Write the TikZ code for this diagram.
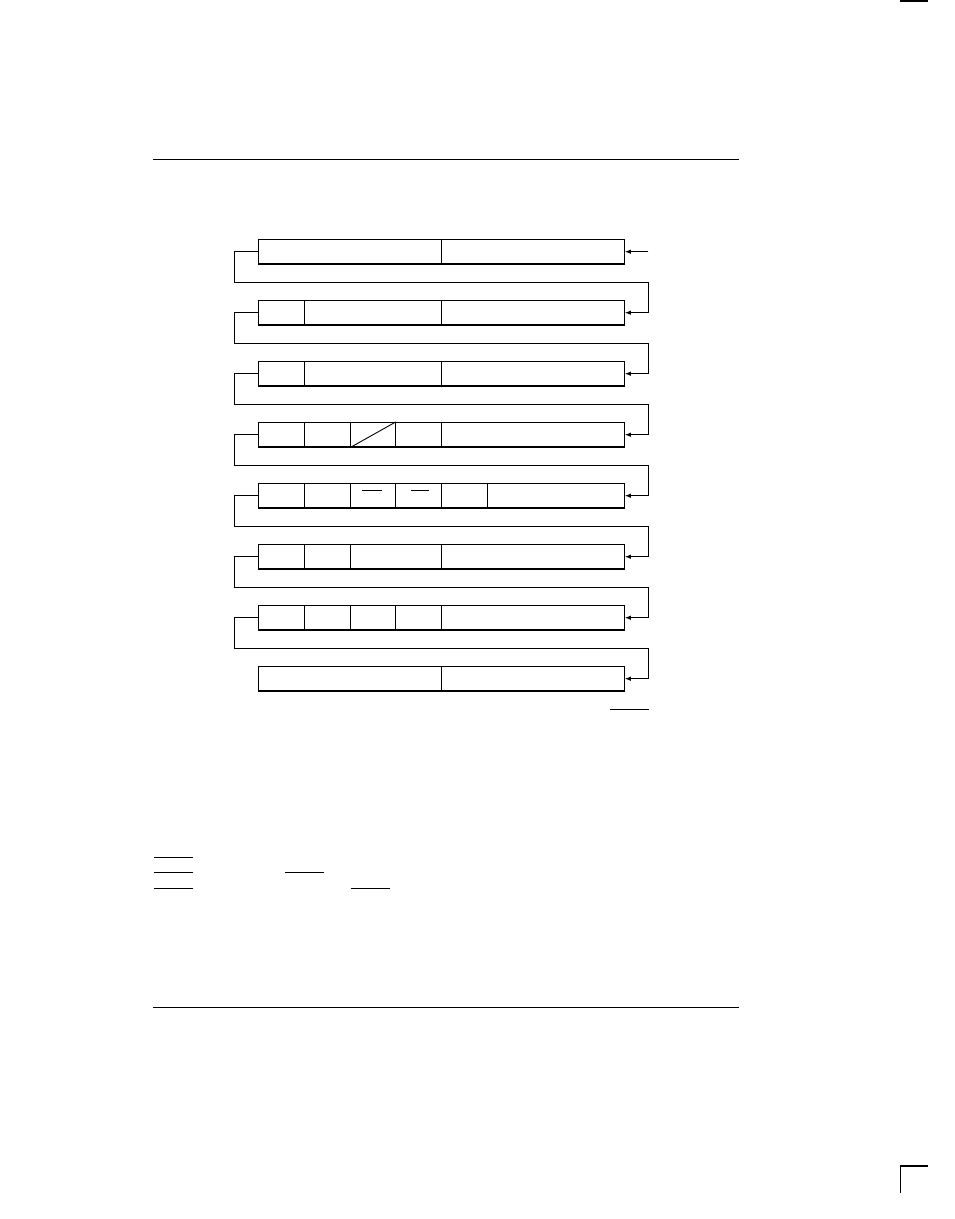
\documentclass[tikz,border=0pt]{standalone}
\usetikzlibrary{arrows.meta}
\begin{document}
\begin{tikzpicture}[x=1pt,y=-1pt,line width=1pt,
  rowbox/.style={draw,rectangle,minimum width=366pt,minimum height=24.5pt,inner sep=0pt,line width=1.1pt},
  arr/.style={-{Latex[length=6pt,width=4.5pt]},line width=1pt},
  rule/.style={line width=1pt}]
\useasboundingbox (0,0) rectangle (954,1219);
% column coordinates
\coordinate (k1) at (304.3,0);
\coordinate (k2) at (350.3,0);
\coordinate (k3) at (395.8,0);
\coordinate (k4) at (441.3,0);
\coordinate (k5) at (487.3,0);
% rows
\foreach \i in {1,...,8}{
  \node[rowbox] (r\i) at (441.3,{251.7+61*(\i-1)}) {};
}
% loop coordinates
\foreach \i in {1,...,7}{
  \coordinate (L\i) at (234.3,{282.2+61*(\i-1)});
  \coordinate (R\i) at (648.3,{282.2+61*(\i-1)});
}
% dividers
\foreach \r/\k in {1/k4, 2/k1, 2/k4, 3/k1, 3/k4, 4/k1, 4/k2, 4/k3, 4/k4,
                   5/k1, 5/k2, 5/k3, 5/k4, 5/k5, 6/k1, 6/k2, 6/k4,
                   7/k1, 7/k2, 7/k3, 7/k4, 8/k4}{
  \draw[line width=1.1pt] (r\r.north -| \k) -- (r\r.south -| \k);
}
% diagonal in row 4
\draw[line width=0.9pt] (r4.south -| k2) -- (r4.north -| k3);
% overbars in row 5
\draw[line width=1pt] (362,490.3) -- (382,490.3);
\draw[line width=1pt] (411,490.3) -- (429,490.3);
% input arrow
\coordinate (in) at (648.3,251.7);
\draw[arr] (in) -- (r1.east);
% loops
\foreach \i [evaluate=\i as \j using int(\i+1)] in {1,...,7}{
  \draw[arr] (r\i.west) -| (L\i) -- (R\i) |- (r\j.east);
}
% short line below last row
\draw[rule] (610,709.3) -- (649,709.3);
% page rules
\draw[rule] (153,159.5) -- (739,159.5);
\draw[rule] (153,1007) -- (739,1007);
% bottom-left short lines
\draw[rule] (154,857) -- (192.7,857);
\draw[rule] (154,872.3) -- (192.7,872.3);
\draw[rule] (285.3,872.3) -- (323.7,872.3);
\draw[rule] (154,888.3) -- (192.7,888.3);
\draw[rule] (351.3,888.3) -- (389.7,888.3);
% corner marks
\draw[line width=2pt] (900,1) -- (928,1);
\draw[line width=1.2pt] (900.3,1193) -- (900.3,1166) -- (928,1166);
\end{tikzpicture}
\end{document}
